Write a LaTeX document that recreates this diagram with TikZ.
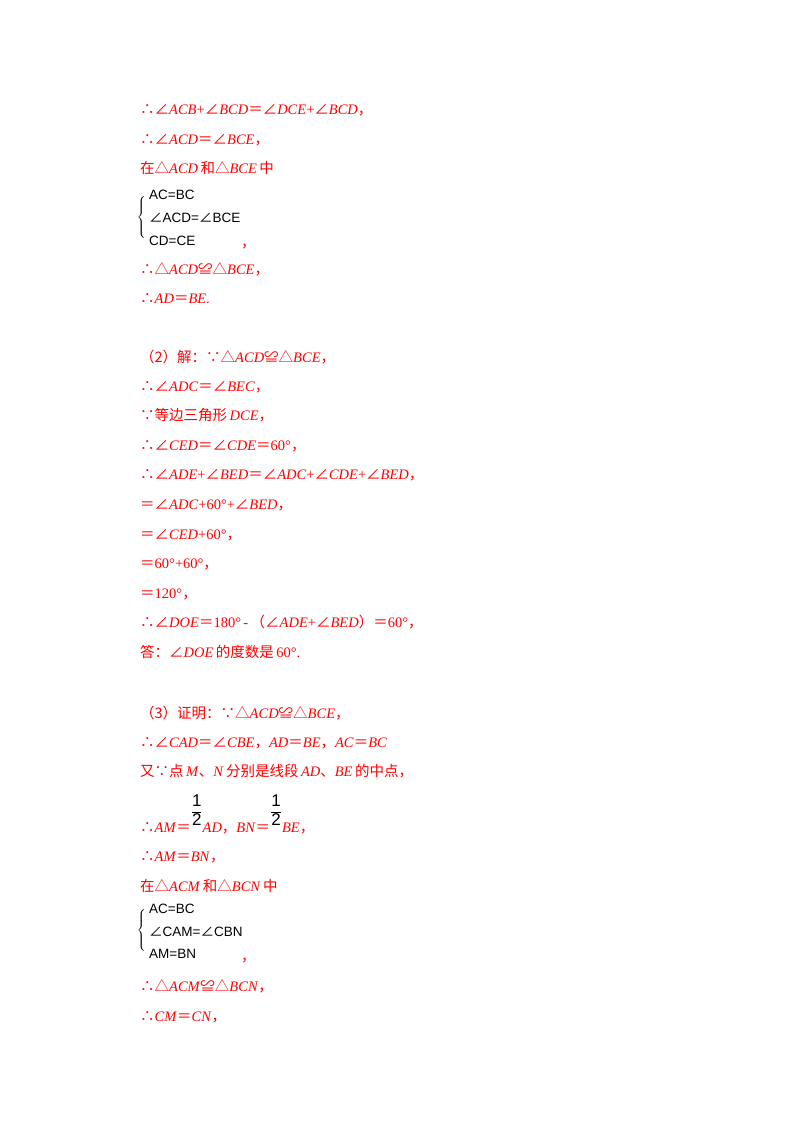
\documentclass[tikz,border=0pt]{standalone}
\usepackage{fontspec}
\setmainfont{Liberation Serif}
\newfontfamily\cjk{Noto Sans CJK SC}
\newfontfamily\blk{Liberation Sans}
\newcommand{\Z}[1]{{\cjk #1}}
\newcommand{\I}[1]{\textit{#1}}
\newcommand{\half}{\raisebox{16pt}{\color{black}$\displaystyle{\hbox{\blk\fontsize{17}{18}\selectfont 1}\over\hbox{\blk\fontsize{17}{18}\selectfont 2}}$}}
\begin{document}
\begin{tikzpicture}[x=1pt,y=-1pt,
  ln/.style={anchor=base west,inner sep=0pt,text=red,yshift=-5pt,font=\fontsize{14.5}{16}\selectfont},
  bl/.style={anchor=base west,inner sep=0pt,text=black,font=\blk\fontsize{13.5}{15}\selectfont},
  br/.style={anchor=center,inner sep=0pt,font=\fontsize{14}{15}\selectfont}]
\useasboundingbox[fill=white] (0,0) rectangle (800,1132);
\node[ln] (l1) at (140,109) {\Z{∴∠}\I{ACB}+\Z{∠}\I{BCD}\Z{＝∠}\I{DCE}+\Z{∠}\I{BCD}\Z{，}};
\node[ln] (l2) at (140,139) {\Z{∴∠}\I{ACD}\Z{＝∠}\I{BCE}\Z{，}};
\node[ln] (l3) at (140,168) {\Z{在△}\I{ACD}\,\Z{和△}\I{BCE}\,\Z{中}};
\node[br] (b1) at (142,217) {$\left\{\vphantom{\rule{0pt}{26pt}}\right.$};
\node[bl] (s1) at (149,199) {AC=BC};
\node[bl] (s2) at (149,222) {\Z{∠}ACD=\Z{∠}BCE};
\node[bl] (s3) at (149,245) {CD=CE};
\node[ln,yshift=5pt] (c1) at (241,247) {\Z{，}};
\node[ln] (l4) at (140,269) {\Z{∴△}\I{ACD}\Z{≌△}\I{BCE}\Z{，}};
\node[ln] (l5) at (140,298) {\Z{∴}\I{AD}\Z{＝}\I{BE}.};
\node[ln] (l6) at (140,357) {\Z{（2）解：∵△}\I{ACD}\Z{≌△}\I{BCE}\Z{，}};
\node[ln] (l7) at (140,386) {\Z{∴∠}\I{ADC}\Z{＝∠}\I{BEC}\Z{，}};
\node[ln] (l8) at (140,415) {\Z{∵等边三角形}\,\I{DCE}\Z{，}};
\node[ln] (l9) at (140,445) {\Z{∴∠}\I{CED}\Z{＝∠}\I{CDE}\Z{＝}60°\Z{，}};
\node[ln] (l10) at (140,474) {\Z{∴∠}\I{ADE}+\Z{∠}\I{BED}\Z{＝∠}\I{ADC}+\Z{∠}\I{CDE}+\Z{∠}\I{BED}\Z{，}};
\node[ln] (l11) at (140,504) {\Z{＝∠}\I{ADC}+60°+\Z{∠}\I{BED}\Z{，}};
\node[ln] (l12) at (140,534) {\Z{＝∠}\I{CED}+60°\Z{，}};
\node[ln] (l13) at (140,563) {\Z{＝}60°+60°\Z{，}};
\node[ln] (l14) at (140,593) {\Z{＝}120°\Z{，}};
\node[ln] (l15) at (140,622) {\Z{∴∠}\I{DOE}\Z{＝}180°\,-\,\Z{（∠}\I{ADE}+\Z{∠}\I{BED}\Z{）＝}60°\Z{，}};
\node[ln] (l16) at (140,652) {\Z{答：∠}\I{DOE}\,\Z{的度数是}\,60°.};
\node[ln] (l17) at (140,713) {\Z{（3）证明：∵△}\I{ACD}\Z{≌△}\I{BCE}\Z{，}};
\node[ln] (l18) at (140,742) {\Z{∴∠}\I{CAD}\Z{＝∠}\I{CBE}\Z{，}\I{AD}\Z{＝}\I{BE}\Z{，}\I{AC}\Z{＝}\I{BC}};
\node[ln] (l19) at (140,771) {\Z{又∵点}\,\I{M}\Z{、}\I{N}\,\Z{分别是线段}\,\I{AD}\Z{、}\I{BE}\,\Z{的中点，}};
\node[ln] (l20) at (140,827) {\Z{∴}\I{AM}\Z{＝}\half\I{AD}\Z{，}\I{BN}\Z{＝}\half\I{BE}\Z{，}};
\node[ln] (l21) at (140,856) {\Z{∴}\I{AM}\Z{＝}\I{BN}\Z{，}};
\node[ln] (l22) at (140,886) {\Z{在△}\I{ACM}\,\Z{和△}\I{BCN}\,\Z{中}};
\node[br] (b2) at (142,930) {$\left\{\vphantom{\rule{0pt}{26pt}}\right.$};
\node[bl] (t1) at (149,913) {AC=BC};
\node[bl] (t2) at (149,936) {\Z{∠}CAM=\Z{∠}CBN};
\node[bl] (t3) at (149,958) {AM=BN};
\node[ln,yshift=5pt] (c2) at (241,961) {\Z{，}};
\node[ln] (l23) at (140,986) {\Z{∴△}\I{ACM}\Z{≌△}\I{BCN}\Z{，}};
\node[ln] (l24) at (140,1016) {\Z{∴}\I{CM}\Z{＝}\I{CN}\Z{，}};
\end{tikzpicture}
\end{document}
